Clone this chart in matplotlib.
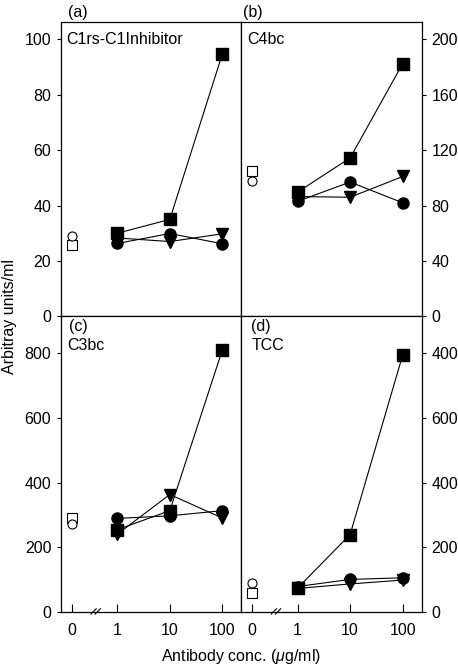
import numpy as np
import matplotlib
matplotlib.use("Agg")
import matplotlib.pyplot as plt
import matplotlib.transforms as mtransforms

plt.rcParams['font.family'] = ['Liberation Sans', 'DejaVu Sans']
plt.rcParams['mathtext.fontset'] = 'custom'
plt.rcParams['mathtext.it'] = 'Liberation Sans:italic'
plt.rcParams['mathtext.rm'] = 'Liberation Sans'

## data: x categories, control (0 ug/ml) values, and three antibody series
conc_labels = ["0", "1", "10", "100"]
conc_pos = [-0.866, 0, 1, 2]       # 0 is placed before the axis break

# (a) C1rs-C1Inhibitor
a_open_sq, a_open_ci = 25.7, 29.0
a_square = [30.0, 35.0, 94.8]
a_circle = [26.3, 29.9, 26.2]
a_tri = [28.3, 27.0, 29.8]

# (b) C4bc
b_open_sq, b_open_ci = 105, 98
b_square = [89.7, 114.4, 182.5]
b_circle = [83.0, 97.0, 82.0]
b_tri = [86.5, 86.0, 101.0]

# (c) C3bc
c_open_sq, c_open_ci = 290, 272
c_square = [254, 313, 811]
c_circle = [289, 297, 313]
c_tri = [240, 363, 290]

# (d) TCC
d_open_sq, d_open_ci = 59, 88
d_square = [73, 239, 795]
d_circle = [78, 100, 105]
d_tri = [72, 86, 98]

FS = 11.5

fig = plt.figure(figsize=(4.58, 6.66), dpi=100)

L, W = 61 / 458, 180.3 / 458
top_y0, top_h = 1 - 316.3 / 666, 294.3 / 666
bot_y0, bot_h = 1 - 611.7 / 666, 295.4 / 666

ax_a = fig.add_axes([L, top_y0, W, top_h])
ax_b = fig.add_axes([L + W, top_y0, W, top_h])
ax_c = fig.add_axes([L, bot_y0, W, bot_h])
ax_d = fig.add_axes([L + W, bot_y0, W, bot_h])

panels = [
    (ax_a, a_open_sq, a_open_ci, a_square, a_circle, a_tri),
    (ax_b, b_open_sq, b_open_ci, b_square, b_circle, b_tri),
    (ax_c, c_open_sq, c_open_ci, c_square, c_circle, c_tri),
    (ax_d, d_open_sq, d_open_ci, d_square, d_circle, d_tri),
]

xs = conc_pos[1:]
for ax, osq, oci, sq, ci, tr in panels:
    ax.plot(xs, ci, '-o', color='k', lw=0.8, ms=8, mfc='k', mec='k')
    ax.plot(xs, tr, '-v', color='k', lw=0.8, ms=8.5, mfc='k', mec='k')
    ax.plot(xs, sq, '-s', color='k', lw=0.8, ms=8, mfc='k', mec='k')
    ax.plot(conc_pos[0], osq, 's', ms=6.5, mfc='white', mec='k', mew=0.8)
    ax.plot(conc_pos[0], oci, 'o', ms=6.5, mfc='white', mec='k', mew=0.8)
    ax.set_xlim(-1.07, 2.36)
    for s in ax.spines.values():
        s.set_linewidth(0.9)

ax_a.set_ylim(0, 106.3)
ax_b.set_ylim(0, 212.6)
ax_c.set_ylim(0, 915)
ax_d.set_ylim(0, 915)

ax_a.set_yticks([0, 20, 40, 60, 80, 100])
ax_b.set_yticks([0, 40, 80, 120, 160, 200])
ax_c.set_yticks([0, 200, 400, 600, 800])
ax_d.set_yticks([0, 200, 400, 600, 800])
ax_d.set_yticklabels(["0", "200", "400", "600", "400"])

for ax in (ax_a, ax_b):
    ax.set_xticks([])
for ax in (ax_c, ax_d):
    ax.set_xticks(conc_pos)
    ax.set_xticklabels(conc_labels)
    ax.tick_params(axis='x', direction='in', length=6, width=0.8,
                   labelsize=FS, pad=8)
    # axis break marks
    trans = mtransforms.blended_transform_factory(ax.transData, ax.transAxes)
    for dx in (-0.06, 0.02):
        ax.plot([-0.44 + dx, -0.44 + dx + 0.1], [-0.008, 0.01], color='k',
                lw=0.8, transform=trans, clip_on=False)

for ax in (ax_a, ax_c):
    ax.tick_params(axis='y', direction='out', length=3, width=0.8,
                   labelsize=FS, pad=4)
for ax in (ax_b, ax_d):
    ax.yaxis.tick_right()
    ax.tick_params(axis='y', direction='out', length=3, width=0.8,
                   labelsize=FS, pad=4, left=False)

# panel labels
ax_a.text(0.04, 1.008, "(a)", transform=ax_a.transAxes, fontsize=FS, va='bottom')
ax_a.text(0.03, 0.965, "C1rs-C1Inhibitor", transform=ax_a.transAxes, fontsize=FS, va='top')
ax_b.text(0.01, 1.008, "(b)", transform=ax_b.transAxes, fontsize=FS, va='bottom')
ax_b.text(0.035, 0.965, "C4bc", transform=ax_b.transAxes, fontsize=FS, va='top')
ax_c.text(0.045, 0.99, "(c)", transform=ax_c.transAxes, fontsize=FS, va='top')
ax_c.text(0.035, 0.925, "C3bc", transform=ax_c.transAxes, fontsize=FS, va='top')
ax_d.text(0.055, 0.99, "(d)", transform=ax_d.transAxes, fontsize=FS, va='top')
ax_d.text(0.055, 0.925, "TCC", transform=ax_d.transAxes, fontsize=FS, va='top')

fig.text(10 / 458, 1 - 316 / 666, "Arbitray units/ml", rotation=90,
         ha='center', va='center', fontsize=FS)
fig.text(241 / 458, 1 - 656 / 666, r"Antibody conc. ($\mu$g/ml)",
         ha='center', va='center', fontsize=FS)

fig.savefig("out.png", dpi=100)
